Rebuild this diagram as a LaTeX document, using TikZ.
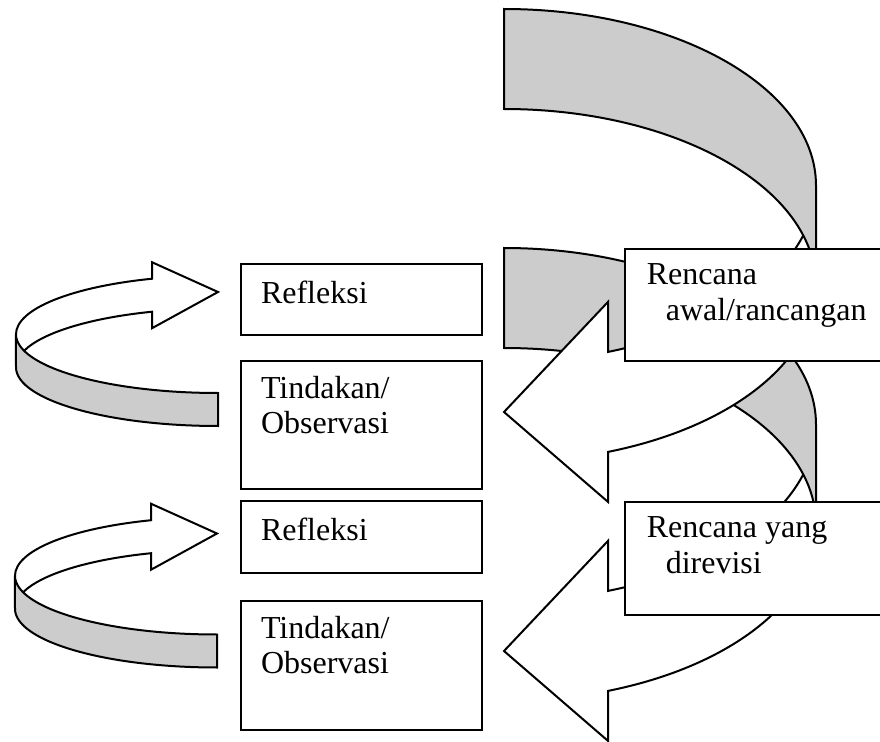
\documentclass[tikz,border=0pt]{standalone}
\usepackage{fontspec}
\setmainfont{Liberation Serif}
\usetikzlibrary{positioning}
\definecolor{bandgray}{RGB}{204,204,204}

\begin{document}
\begin{tikzpicture}[x=0.375pt, y=-0.375pt, line width=0.75pt,
  box/.style={draw, fill=white, anchor=north west, inner sep=0pt},
  boxtext/.style={inner sep=0pt, align=left, font=\fontsize{12pt}{13.4pt}\selectfont, execute at begin node=\strut},
  back/.style={fill=bandgray},
  front/.style={fill=white},
  bigarc/.style={x radius=312, y radius=176.5},
  smallarc/.style={x radius=202, y radius=58.75}]
  \useasboundingbox (0,0) rectangle (880,742);
  \clip (0,0) rectangle (880,742);
  % small loops on the left
  \foreach \xr/\yb in {218/426, 217/667.5} {
    \fill[front, smallarc] (\xr-66, \yb-147.28) arc[start angle=250.93, end angle=180]
      -- (\xr-202, \yb-58.75) arc[start angle=180, end angle=250.93]
      -- (\xr-66, \yb-97.78) -- (\xr, \yb-134) -- (\xr-66, \yb-163.78) -- cycle;
    \fill[back, smallarc] (\xr-202, \yb-91.75) arc[start angle=180, end angle=90]
      -- (\xr, \yb) arc[start angle=90, end angle=180] -- cycle;
    \draw[smallarc] (\xr-193.86, \yb-75.25) arc[start angle=196.31, end angle=250.93]
      -- (\xr-66, \yb-97.78) -- (\xr, \yb-134) -- (\xr-66, \yb-163.78) -- (\xr-66, \yb-147.28)
      arc[start angle=250.93, end angle=180] -- (\xr-202, \yb-58.75)
      arc[start angle=180, end angle=90] -- (\xr, \yb-33) arc[start angle=90, end angle=180];
  }
  % big curved arrows, the lower one first
  \foreach \yt in {248, 9} {
    \fill[front, bigarc] (816, \yt+176.5) arc[start angle=0, end angle=70.53]
      -- (608, \yt+292.9) -- (504, \yt+403) -- (608, \yt+492.9) -- (608, \yt+442.9)
      arc[start angle=70.53, end angle=0] -- cycle;
    \fill[back, bigarc] (504, \yt) arc[start angle=-90, end angle=0]
      -- (816, \yt+276.5) arc[start angle=0, end angle=-90] -- cycle;
    \draw[bigarc] (803.22, \yt+226.5) arc[start angle=16.46, end angle=70.53]
      -- (608, \yt+292.9) -- (504, \yt+403) -- (608, \yt+492.9) -- (608, \yt+442.9)
      arc[start angle=70.53, end angle=0] -- (816, \yt+176.5)
      arc[start angle=0, end angle=-90] -- (504, \yt+100) arc[start angle=-90, end angle=0];
  }
  % boxes
  \node[box, minimum width=90.4pt, minimum height=26.6pt] (refl1) at (240,263) {};
  \node[box, minimum width=90.4pt, minimum height=48pt] (tind1) at (240,360) {};
  \node[box, minimum width=90.4pt, minimum height=27pt] (refl2) at (240,500) {};
  \node[box, minimum width=90.4pt, minimum height=48.4pt] (tind2) at (240,600) {};
  \node[box, minimum width=110pt, minimum height=42pt] (plan1) at (624,248) {};
  \node[box, minimum width=110pt, minimum height=42.4pt] (plan2) at (624,501) {};
  % box texts
  \node[boxtext, below right=5.6pt and 7.5pt of refl1.north west] (refl1txt) {Refleksi};
  \node[boxtext, below right=5.6pt and 7.5pt of tind1.north west] (tind1txt) {Tindakan/\\Observasi};
  \node[boxtext, below right=5.6pt and 7.5pt of refl2.north west] (refl2txt) {Refleksi};
  \node[boxtext, below right=5.6pt and 7.5pt of tind2.north west] (tind2txt) {Tindakan/\\Observasi};
  \node[boxtext, below right=5.6pt and 8.2pt of plan1.north west] (plan1txt) {Rencana\\\hspace*{7.1pt}awal/rancangan};
  \node[boxtext, below right=5.6pt and 8.2pt of plan2.north west] (plan2txt) {Rencana yang\\\hspace*{7.1pt}direvisi};
\end{tikzpicture}
\end{document}
